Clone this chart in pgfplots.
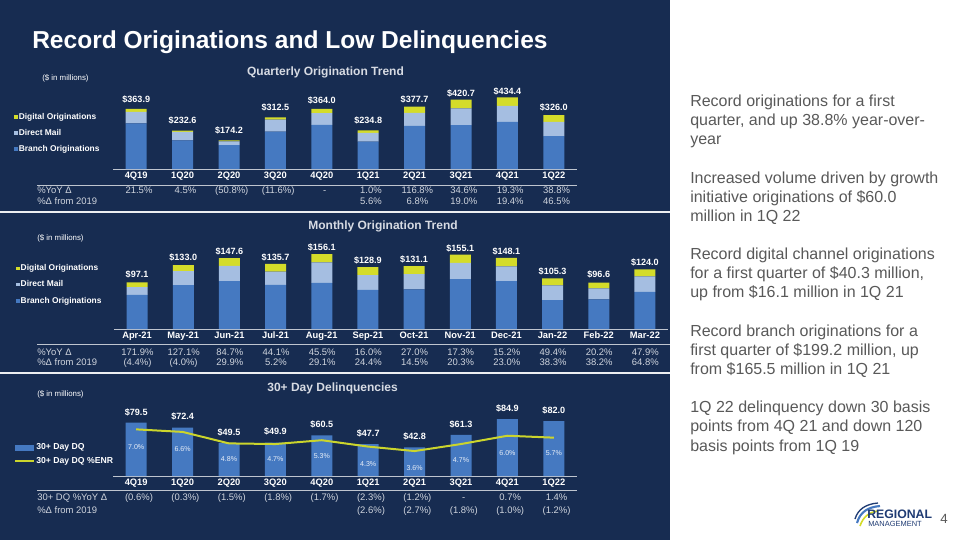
\documentclass[border=0pt]{standalone}
\usepackage{pgfplots}
\pgfplotsset{compat=1.18}
\usepackage{pgfplotstable}
\usepackage{fontspec}
\setmainfont{Liberation Sans}

\definecolor{navy}{HTML}{172C51}
\definecolor{branch}{HTML}{4579C1}
\definecolor{dmail}{HTML}{A5BEE1}
\definecolor{digital}{HTML}{D4DC2A}
\definecolor{axisgrey}{HTML}{BFC5CF}
\definecolor{rowtext}{HTML}{D0D5DE}
\definecolor{sidegrey}{HTML}{595959}
\definecolor{dqline}{HTML}{CBD52C}
\definecolor{logoblue}{HTML}{1F3B73}

% quarterly originations ($M)
\pgfplotstableread{
x br dm dg tot
0 277.0 70.0 16.9 363.9
1 173.0 52.0 7.6 232.6
2 145.0 22.0 7.2 174.2
3 226.0 73.5 13.0 312.5
4 267.0 71.0 26.0 364.0
5 165.5 53.2 16.1 234.8
6 262.0 78.0 37.7 377.7
7 266.0 102.0 52.7 420.7
8 286.2 96.2 52.0 434.4
9 199.2 86.5 40.3 326.0
}\quarterly

% monthly originations ($M)
\pgfplotstableread{
x br dm dg tot
0 71.0 16.5 9.6 97.1
1 91.5 29.0 12.5 133.0
2 99.8 31.9 15.9 147.6
3 92.0 27.7 16.0 135.7
4 96.1 42.5 17.5 156.1
5 81.5 30.7 16.7 128.9
6 82.6 31.8 16.7 131.1
7 103.8 33.8 17.5 155.1
8 99.8 30.5 17.8 148.1
9 60.1 31.0 14.2 105.3
10 61.6 23.2 11.8 96.6
11 77.5 32.2 14.3 124.0
}\monthly

% 30+ day delinquencies ($M, % of ENR, label height)
\pgfplotstableread{
x dq pct mid
0 79.5 7.0 43.7
1 72.4 6.6 40.7
2 49.5 4.8 24.9
3 49.9 4.7 24.9
4 60.5 5.3 29.9
5 47.7 4.3 17.9
6 42.8 3.6 12.4
7 61.3 4.7 23.9
8 84.9 6.0 33.9
9 82.0 5.7 33.9
}\delinq

\pgfplotsset{
  panel/.style={
    scale only axis, clip=false,
    axis x line=bottom, axis y line=none,
    axis line style={axisgrey, line width=0.75pt, -},
    ymin=0, major tick length=0pt, ytick=\empty,
    xticklabel style={text=white, font=\bfseries\fontsize{7}{8}\selectfont, inner sep=2pt},
    /pgf/number format/assume math mode=true,
    legend cell align=left,
    legend style={draw=none, fill=none, text=white, inner sep=0pt,
      font=\bfseries\fontsize{6.3}{7}\selectfont,
      nodes={inner sep=0.8pt, text height=4.6pt, text depth=1.3pt}},
  },
  totals/.style={
    nodes near coords={\$\pgfmathprintnumber[fixed,fixed zerofill,precision=1]{\pgfplotspointmeta}},
    nodes near coords style={text=white, font=\bfseries\fontsize{6.8}{7}\selectfont,
      anchor=south, inner sep=0pt, yshift=5pt}},
  sq/.style={legend image code/.code={\fill[##1,draw=none] (0pt,-1.3pt) rectangle (2.6pt,1.3pt);}},
}

\begin{document}
\begin{tikzpicture}
\begin{scope}[x=0.75pt,y=-0.75pt]
\path[use as bounding box] (0,0) rectangle (960,540);
\fill[white] (0,0) rectangle (960,540);
\fill[navy] (0,0) rectangle (670,540);
\node[anchor=base west, text=white, font=\bfseries\fontsize{18.4}{20}\selectfont, inner sep=0pt]
  at (32,48.5) {Record Originations and Low Delinquencies};
% section titles
\begin{scope}[every node/.style={text=rowtext!85!white, font=\bfseries\fontsize{9}{10}\selectfont, inner sep=0pt, anchor=base}]
\node at (325.5,75.3) {Quarterly Origination Trend};
\node at (383,229.3) {Monthly Origination Trend};
\node at (332.6,391.3) {30+ Day Delinquencies};
\end{scope}
\begin{scope}[every node/.style={text=white, font=\fontsize{5.9}{7}\selectfont, inner sep=0pt, anchor=west}]
\node at (42,78) {(\$ in millions)};
\node at (37,238) {(\$ in millions)};
\node at (37,394) {(\$ in millions)};
\end{scope}
% separators
\draw[white!92!navy, line width=0.8pt] (0,212) -- (670,212);
\draw[white!92!navy, line width=0.8pt] (0,373) -- (670,373);
\draw[axisgrey, line width=0.75pt] (37,185) -- (577,185);
\draw[axisgrey, line width=0.75pt] (37,344.3) -- (670,344.3);
\draw[axisgrey, line width=0.75pt] (37,490.7) -- (577,490.7);
% side text
\foreach \t [count=\i from 0] in {
  Record originations for a first,
  {quarter, and up 38.8\% year-over-},
  year, {},
  Increased volume driven by growth,
  initiative originations of \$60.0,
  million in 1Q 22, {},
  Record digital channel originations,
  {for a first quarter of \$40.3 million,},
  up from \$16.1 million in 1Q 21, {},
  Record branch originations for a,
  {first quarter of \$199.2 million, up},
  from \$165.5 million in 1Q 21, {},
  1Q 22 delinquency down 30 basis,
  points from 4Q 21 and down 120,
  basis points from 1Q 19}
  \node[anchor=base west, inner sep=0pt, text=sidegrey, font=\fontsize{12}{14}\selectfont]
    at (690,{106.4+19.15*\i}) {\t};
% logo and page number
\draw[branch, line width=1.6pt] (857,523) .. controls (860,512) and (868,507) .. (880,506);
\draw[digital, line width=1.2pt] (860,526) .. controls (863,517) and (869,512) .. (878,511);
\draw[logoblue, line width=1pt] (855,519) .. controls (858,509) and (866,504) .. (878,503);
\node[anchor=base west, inner sep=0pt, text=logoblue, font=\bfseries\fontsize{9.2}{10}\selectfont] at (867,518) {REGIONAL};
\node[anchor=base west, inner sep=0pt, text=logoblue, font=\fontsize{5.6}{6}\selectfont] at (868,526.5) {MANAGEMENT};
\node[anchor=base west, inner sep=0pt, text=sidegrey, font=\fontsize{10}{12}\selectfont] at (940,523.5) {4};
\end{scope}

% ---------- quarterly ----------
\begin{axis}[panel, at={(113*0.75pt,-169*0.75pt)}, anchor=south west,
  width=348pt, height=61.875pt, xmin=-0.5, xmax=9.5, ymax=500,
  ybar stacked, bar width=15.75pt,
  xtick={0,...,9}, xticklabels={4Q19,1Q20,2Q20,3Q20,4Q20,1Q21,2Q21,3Q21,4Q21,1Q22},
  sq, reverse legend,
  legend style={at={(-0.2134,0.695)}, anchor=north west, row sep=4.5pt}]
\addplot[fill=branch, draw=none] table[x=x,y=br]{\quarterly};
\addlegendentry{Branch Originations}
\addplot[fill=dmail, draw=none] table[x=x,y=dm]{\quarterly};
\addlegendentry{Direct Mail}
\addplot[fill=digital, draw=none, point meta=explicit, totals] table[x=x,y=dg,meta=tot]{\quarterly};
\addlegendentry{Digital Originations}
\end{axis}

% ---------- monthly ----------
\begin{axis}[panel, at={(114*0.75pt,-329*0.75pt)}, anchor=south west,
  width=415.5pt, height=72pt, xmin=-0.5, xmax=11.5, ymax=200,
  ybar stacked, bar width=15.75pt,
  xtick={0,...,11}, xticklabels={Apr-21,May-21,Jun-21,Jul-21,Aug-21,Sep-21,Oct-21,Nov-21,Dec-21,Jan-22,Feb-22,Mar-22},
  sq, reverse legend,
  legend style={at={(-0.177,0.684)}, anchor=north west, row sep=4.6pt}]
\addplot[fill=branch, draw=none] table[x=x,y=br]{\monthly};
\addlegendentry{Branch Originations}
\addplot[fill=dmail, draw=none] table[x=x,y=dm]{\monthly};
\addlegendentry{Direct Mail}
\addplot[fill=digital, draw=none, point meta=explicit, totals] table[x=x,y=dg,meta=tot]{\monthly};
\addlegendentry{Digital Originations}
\end{axis}

% ---------- delinquencies ----------
\begin{axis}[panel, at={(113*0.75pt,-476*0.75pt)}, anchor=south west,
  width=348pt, height=50.25pt, xmin=-0.5, xmax=9.5, ymax=100,
  xtick={0,...,9}, xticklabels={4Q19,1Q20,2Q20,3Q20,4Q20,1Q21,2Q21,3Q21,4Q21,1Q22}]
\addplot[ybar, bar width=15.75pt, fill=branch, draw=none, totals] table[x=x,y=dq]{\delinq};
\addplot[draw=none, nodes near coords={\pgfplotspointmeta\%}, point meta=explicit symbolic,
  nodes near coords style={anchor=center, inner sep=0pt, text=white!88!branch,
    font=\fontsize{5.3}{6}\selectfont}] table[x=x,y=mid,meta=pct]{\delinq};
\end{axis}
\begin{axis}[scale only axis, clip=false, axis lines=none, at={(113*0.75pt,-476*0.75pt)}, anchor=south west,
  width=348pt, height=50.25pt, xmin=-0.5, xmax=9.5, ymin=-0.31, ymax=10.19,
  xtick=\empty, ytick=\empty, legend cell align=left,
  legend style={draw=none, fill=none, text=white, inner sep=0pt,
    font=\bfseries\fontsize{6.5}{7}\selectfont,
    nodes={inner sep=0.8pt, text height=4.7pt, text depth=1.3pt},
    at={(-0.2134,0.503)}, anchor=north west, row sep=2.5pt}]
\addlegendimage{legend image code/.code={\fill[branch] (0pt,-1.9pt) rectangle (13.5pt,1.9pt);}}
\addlegendentry{30+ Day DQ}
\addplot[dqline, line width=1.5pt, legend image code/.code={\draw[dqline, line width=1.5pt] (0pt,0pt) -- (14.25pt,0pt);}] table[x=x,y=pct]{\delinq};
\addlegendentry{30+ Day DQ \%ENR}
\end{axis}

% ---------- table rows ----------
\begin{scope}[x=0.75pt,y=-0.75pt, every node/.style={text=rowtext, font=\fontsize{7.1}{8}\selectfont, inner sep=0pt, anchor=base}]
\node[anchor=base west] at (37,193) {\%YoY Δ};
\node[anchor=base west] at (37,204) {\%Δ from 2019};
\foreach \v [count=\i from 0] in {21.5\%,4.5\%,{(50.8\%)},{(11.6\%)},-,1.0\%,116.8\%,34.6\%,19.3\%,38.8\%}
  \node at ({139+46.4*\i},193) {\v};
\foreach \v [count=\i from 5] in {5.6\%,6.8\%,19.0\%,19.4\%,46.5\%}
  \node at ({139+46.4*\i},204) {\v};
\node[anchor=base west] at (37,355.3) {\%YoY Δ};
\node[anchor=base west] at (37,365.3) {\%Δ from 2019};
\foreach \v [count=\i from 0] in {171.9\%,127.1\%,84.7\%,44.1\%,45.5\%,16.0\%,27.0\%,17.3\%,15.2\%,49.4\%,20.2\%,47.9\%}
  \node at ({137.5+46.17*\i},355.3) {\v};
\foreach \v [count=\i from 0] in {{(4.4\%)},{(4.0\%)},29.9\%,5.2\%,29.1\%,24.4\%,14.5\%,20.3\%,23.0\%,38.3\%,38.2\%,64.8\%}
  \node at ({137.5+46.17*\i},365.3) {\v};
\node[anchor=base west] at (37,500.6) {30+ DQ \%YoY Δ};
\node[anchor=base west] at (37,513.9) {\%Δ from 2019};
\foreach \v [count=\i from 0] in {{(0.6\%)},{(0.3\%)},{(1.5\%)},{(1.8\%)},{(1.7\%)},{(2.3\%)},{(1.2\%)},-,0.7\%,1.4\%}
  \node at ({139+46.4*\i},500.6) {\v};
\foreach \v [count=\i from 5] in {{(2.6\%)},{(2.7\%)},{(1.8\%)},{(1.0\%)},{(1.2\%)}}
  \node at ({139+46.4*\i},513.9) {\v};
\end{scope}
\end{tikzpicture}
\end{document}
